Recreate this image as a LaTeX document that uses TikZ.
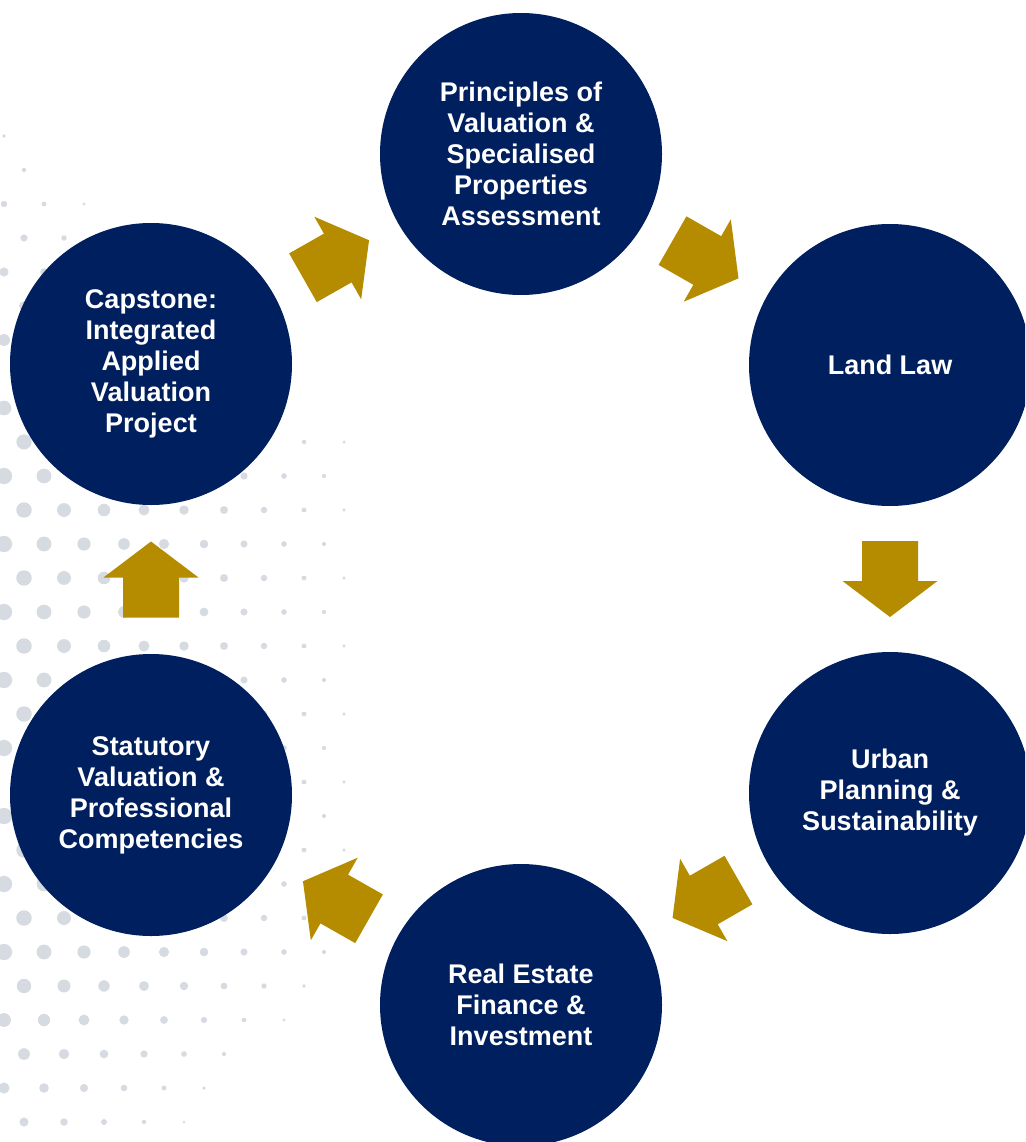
\documentclass[tikz,border=0pt]{standalone}
\usepackage{fontspec}
\setmainfont{Liberation Sans}
\usetikzlibrary{calc}
\definecolor{navy}{RGB}{0,31,94}
\definecolor{gold}{RGB}{181,140,0}
\definecolor{dotgray}{RGB}{214,218,225}
\tikzset{
  topic/.style={circle, fill=navy, minimum size=282pt, inner sep=0pt, text=white, align=center, font=\bfseries\fontsize{27}{31}\selectfont},
  flow/.style={fill=gold},
  halftone/.style={fill=dotgray}
}
\newcommand{\flowarrow}[2]{%
  \coordinate (m) at ($(#1)!0.5!(#2)$);
  \coordinate (t) at ($(m)!-38pt!(#2)$);
  \coordinate (h) at ($(m)!2pt!(#2)$);
  \fill[flow] ($(t)!28pt!90:(#2)$) -- ($(h)!28pt!90:(#2)$) -- ($(h)!47.5pt!90:(#2)$) -- ($(m)!38pt!(#2)$) -- ($(h)!47.5pt!-90:(#2)$) -- ($(h)!28pt!-90:(#2)$) -- ($(t)!28pt!-90:(#2)$) -- cycle;
}
\begin{document}
\begin{tikzpicture}[x=1pt,y=-1pt]
\useasboundingbox (0,0) rectangle (1025,1142);
\clip (0,0) rectangle (1025,1142);
\fill[white] (0,0) rectangle (1025,1142);
\foreach \j in {3,...,34}{
  \foreach \i in {0,...,9}{
    \pgfmathsetmacro{\px}{40*\i+20*mod(\j,2)+4}
    \pgfmathsetmacro{\py}{34*\j}
    \pgfmathsetmacro{\rr}{8.2-0.019*\px-0.02*max(0,450-\py)-0.02*max(0,\py-960)}
    \ifdim\rr pt>1.4pt \fill[halftone] (\px,\py) circle[radius=\rr pt];\fi
  }
}
\node[topic] (pv) at (521,154) {Principles of\\Valuation \&\\Specialised\\Properties\\Assessment};
\node[topic] (ll) at (890,365) {Land Law};
\node[topic] (up) at (890,793) {Urban\\Planning \&\\Sustainability};
\node[topic] (re) at (521,1005) {Real Estate\\Finance \&\\Investment};
\node[topic] (sv) at (151,795) {Statutory\\Valuation \&\\Professional\\Competencies};
\node[topic] (cp) at (151,364) {Capstone:\\Integrated\\Applied\\Valuation\\Project};
\flowarrow{pv}{ll}
\flowarrow{ll}{up}
\flowarrow{up}{re}
\flowarrow{re}{sv}
\flowarrow{sv}{cp}
\flowarrow{cp}{pv}
\end{tikzpicture}
\end{document}
